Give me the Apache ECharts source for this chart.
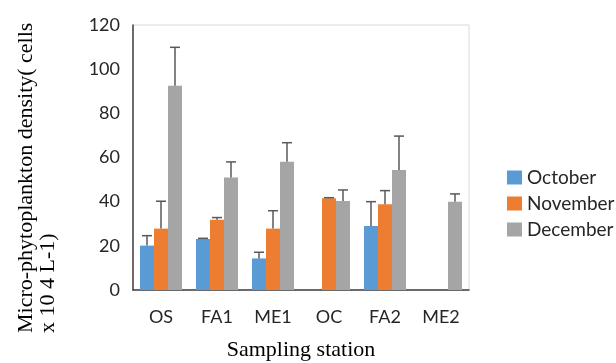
<!DOCTYPE html>
<html><head><meta charset="utf-8">
<script src="https://cdn.jsdelivr.net/npm/echarts@6/dist/echarts.min.js"></script>
<style>html,body{margin:0;padding:0;background:#fff}#c{width:616px;height:363px}</style>
</head><body><div id="c"></div>
<script>
const categories = ['OS', 'FA1', 'ME1', 'OC', 'FA2', 'ME2'];
const seriesNames = ['October', 'November', 'December'];
const october = [20.1, 23.1, 14.3, 0, 29.0, 0];
const november = [27.8, 31.8, 27.8, 41.5, 38.8, 0];
const december = [92.5, 51.0, 58.1, 40.3, 54.3, 40.0];
const octoberErrTop = [24.6, 23.4, 17.1, null, 40.0, null];
const novemberErrTop = [40.2, 32.8, 35.9, 41.8, 45.0, null];
const decemberErrTop = [109.9, 58.0, 66.7, 45.3, 69.7, 43.5];
const yTicks = [0, 20, 40, 60, 80, 100, 120];
const colors = ['#5B9BD5', '#ED7D31', '#A5A5A5'];

const values = [october, november, december];
const errTops = [octoberErrTop, novemberErrTop, decemberErrTop];

const chart = echarts.init(document.getElementById('c'));
const series = [];
values.forEach((v, i) => {
  series.push({
    name: seriesNames[i], type: 'bar', data: v,
    barGap: '0%', barCategoryGap: '25%',
    itemStyle: { color: colors[i] }
  });
});
values.forEach((v, i) => {
  const data = [];
  v.forEach((val, k) => { if (errTops[i][k] != null && val > 0) data.push([k, val, errTops[i][k]]); });
  series.push({
    type: 'custom', z: 5,
    renderItem: function (params, api) {
      const k = api.value(0);
      const p0 = api.coord([k, api.value(1)]);
      const p1 = api.coord([k, api.value(2)]);
      const band = api.size([1, 0])[0];
      const x = p0[0] + (i - 1) * band * 0.25;
      const cap = 5;
      return {
        type: 'group',
        children: [
          { type: 'line', shape: { x1: x, y1: p0[1], x2: x, y2: p1[1] }, style: { stroke: '#595959', lineWidth: 1.5 } },
          { type: 'line', shape: { x1: x - cap, y1: p1[1], x2: x + cap, y2: p1[1] }, style: { stroke: '#595959', lineWidth: 1.5 } }
        ]
      };
    },
    data: data, silent: true
  });
});

chart.setOption({
  animation: false,
  grid: { left: 133, right: 147, top: 25, bottom: 73, show: true, borderColor: '#D9D9D9', borderWidth: 1 },
  legend: {
    data: seriesNames, orient: 'vertical', left: 502, top: 163,
    itemWidth: 15, itemHeight: 14, itemGap: 7, icon: 'rect',
    textStyle: { fontFamily: 'Lato', fontSize: 19, color: '#262626' }
  },
  xAxis: {
    type: 'category', data: categories,
    axisLine: { lineStyle: { color: '#404040', width: 1.5 } },
    axisTick: { show: false },
    axisLabel: { fontFamily: 'Lato', fontSize: 18, color: '#262626', margin: 18 }
  },
  yAxis: {
    type: 'value', min: yTicks[0], max: yTicks[yTicks.length - 1], interval: 20,
    axisLine: { show: true, lineStyle: { color: '#404040', width: 1.5 } },
    axisTick: { show: false },
    splitLine: { show: false },
    axisLabel: { fontFamily: 'Lato', fontSize: 18, color: '#262626', margin: 13 }
  },
  graphic: [
    { type: 'text', x: 301, y: 350, style: { text: 'Sampling station', fontFamily: 'Liberation Serif', fontSize: 22, fill: '#000', textAlign: 'center', textVerticalAlign: 'middle' } },
    { type: 'text', x: 15, y: 333, rotation: Math.PI / 2, style: { text: 'Micro-phytoplankton density( cells', fontFamily: 'Liberation Serif', fontSize: 22, fill: '#000', textAlign: 'left', textVerticalAlign: 'top' } },
    { type: 'text', x: 37, y: 333, rotation: Math.PI / 2, style: { text: 'x 10 4 L-1)', fontFamily: 'Liberation Serif', fontSize: 22, fill: '#000', textAlign: 'left', textVerticalAlign: 'top' } }
  ],
  series: series
});
</script>
</body></html>
